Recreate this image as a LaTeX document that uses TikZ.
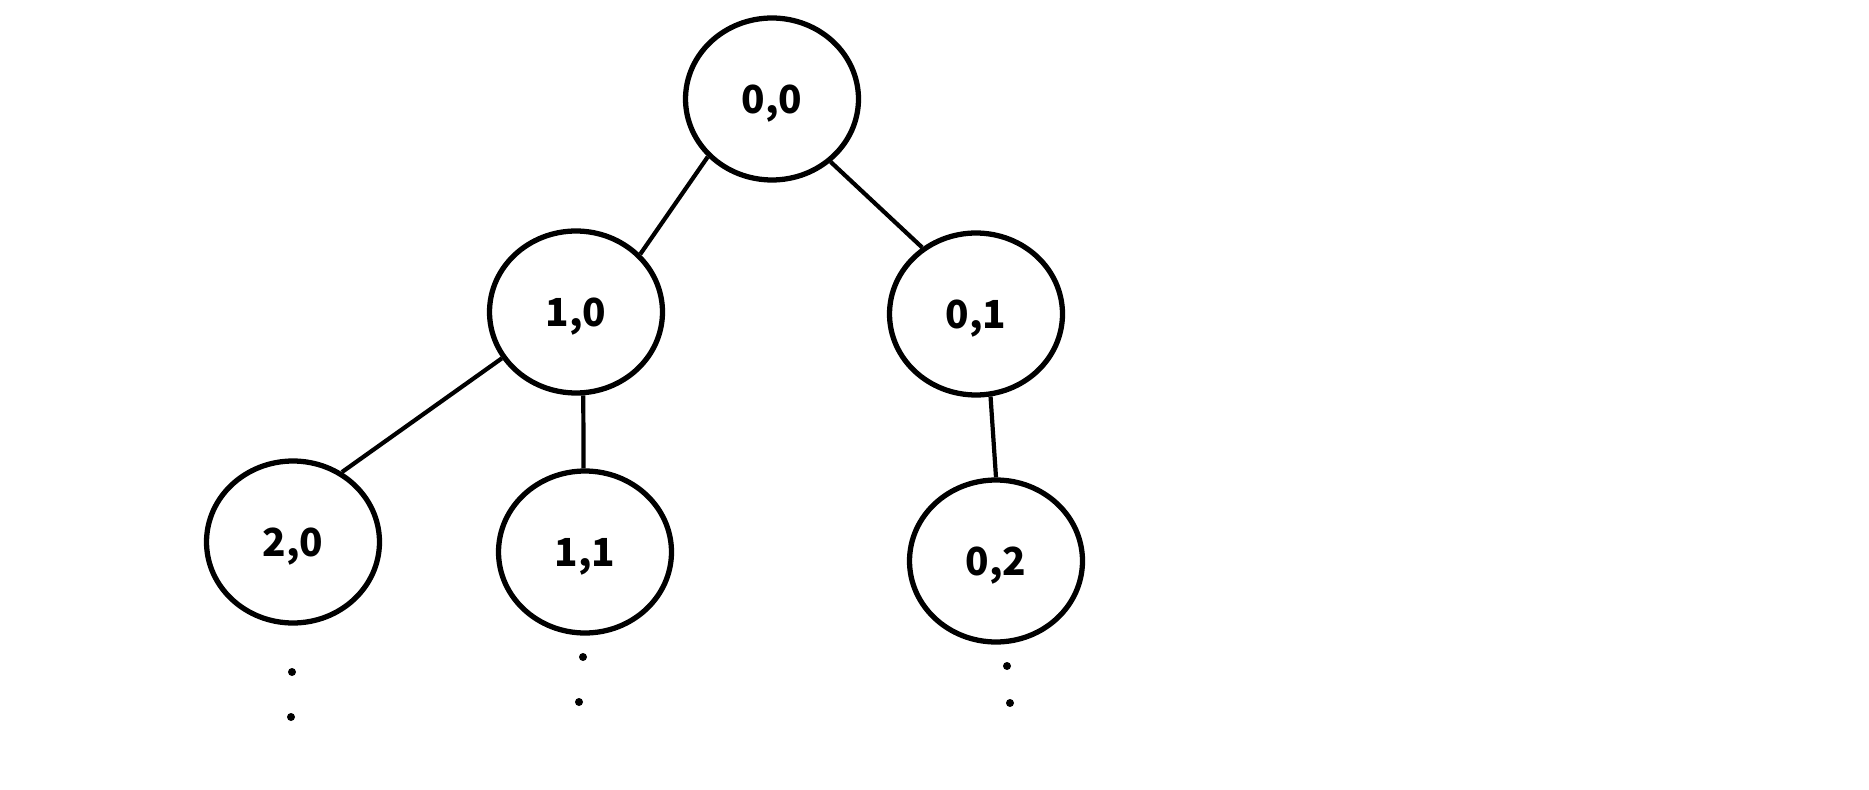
\documentclass[tikz,border=0pt]{standalone}
\usepackage{fontspec}
\setmainfont{Noto Sans CJK SC}
\usepackage{tikz}
\usetikzlibrary{shapes.geometric}
\definecolor{trInk}{HTML}{000000}

\begin{document}
\begin{tikzpicture}[
  x=0.02cm, y=-0.02cm,
  vert/.style={
    ellipse,
    draw=trInk,
    line width=3pt,
    minimum width=3.46cm,
    minimum height=3.24cm,
    inner sep=0pt,
    text depth=0pt,
    font=\fontsize{22}{26}\selectfont\bfseries
  },
  link/.style={draw=trInk, line width=2.4pt},
  dot/.style={circle, fill=trInk, inner sep=0pt, minimum size=0.16cm}
]
  \useasboundingbox (0,0) rectangle (1869,790);

  \node[vert] (N00) at (772,99) {0,0};
  \node[vert] (N10) at (576,312) {1,0};
  \node[vert] (N01) at (976,314) {0,1};
  \node[vert] (N20) at (293,542) {2,0};
  \node[vert] (N11) at (585,552) {1,1};
  \node[vert] (N02) at (996,561) {0,2};

  \draw[link] (N00.222.6) -- (N10.42.7);
  \draw[link] (N00.313) -- (N01.129.4);
  \draw[link] (N10.212.4) -- (N20.55.2);
  \draw[link] (N10.275) -- (N11.91);
  \draw[link] (N01.280) -- (N02.90.7);

  % dots below the leaves
  \node[dot] (D20a) at (292,672) {};
  \node[dot] (D20b) at (291,717) {};
  \node[dot] (D11a) at (583,657) {};
  \node[dot] (D11b) at (579,702) {};
  \node[dot] (D02a) at (1007,666) {};
  \node[dot] (D02b) at (1010,703) {};
\end{tikzpicture}
\end{document}
